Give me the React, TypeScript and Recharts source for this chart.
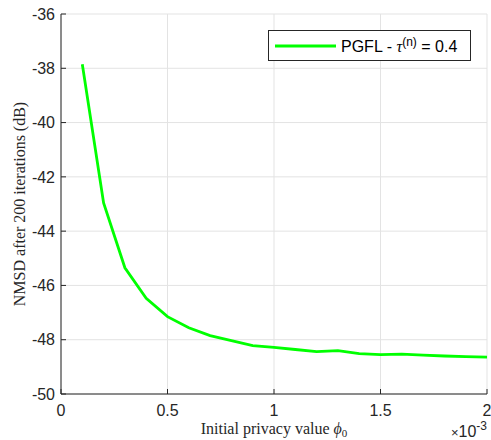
import { LineChart, Line, XAxis, YAxis, CartesianGrid, Legend } from "recharts";

// initial privacy value phi0 (x 1e-3)
const phi0 = [0.1, 0.2, 0.3, 0.4, 0.5, 0.6, 0.7, 0.8, 0.9, 1.0, 1.1, 1.2, 1.3, 1.4, 1.5, 1.6, 1.7, 1.8, 1.9, 2.0];
// NMSD after 200 iterations, dB
const nmsdPgfl = [
  -37.85, -42.96, -45.35, -46.47, -47.15, -47.56, -47.85, -48.03, -48.22, -48.28,
  -48.36, -48.44, -48.4, -48.51, -48.55, -48.53, -48.57, -48.6, -48.62, -48.64,
];
const xTicks = [0, 0.5, 1, 1.5, 2];
const yTicks = [-50, -48, -46, -44, -42, -40, -38, -36];

const data = phi0.map((p, i) => ({ phi: p, nmsd: nmsdPgfl[i] }));

const AXIS = "#262626";
const GREEN = "#00ff00";
const tickFont = { fill: AXIS, fontSize: 16, fontFamily: "'Liberation Sans', Arial, sans-serif" };
const serif = "'Liberation Serif', 'Times New Roman', serif";

function XLabel({ viewBox }: any) {
  const { x, y, width } = viewBox;
  return (
    <g>
      <text x={x + width / 2} y={y + 40} textAnchor="middle" fontFamily={serif} fontSize={16} fill={AXIS}>
        Initial privacy value <tspan fontStyle="italic">ϕ</tspan>
        <tspan fontSize={11} dy={3}>0</tspan>
      </text>
      <text x={x + width} y={y + 43} textAnchor="end" fontFamily={tickFont.fontFamily} fontSize={16} fill={AXIS}>
        <tspan fontSize={13}>×</tspan>10<tspan fontSize={12} dy={-7}>-3</tspan>
      </text>
    </g>
  );
}

function YLabel({ viewBox }: any) {
  const { y, height } = viewBox;
  const cy = y + height / 2;
  return (
    <text x={25} y={cy} transform={`rotate(-90 25 ${cy})`} textAnchor="middle" fontFamily={serif} fontSize={16} fill={AXIS}>
      NMSD after 200 iterations (dB)
    </text>
  );
}

function LegendBox() {
  return (
    <div
      style={{
        width: 203,
        height: 31,
        boxSizing: "border-box",
        border: `1px solid ${AXIS}`,
        background: "#fff",
        display: "flex",
        alignItems: "center",
        fontFamily: tickFont.fontFamily,
        fontSize: 16,
        color: "#000",
        whiteSpace: "nowrap",
      }}
    >
      <svg width={72} height={10} style={{ flex: "none" }}>
        <line x1={6} x2={67} y1={5} y2={5} stroke={GREEN} strokeWidth={3} />
      </svg>
      <span>
        PGFL - <span style={{ fontFamily: serif, fontStyle: "italic" }}>τ</span>
        <sup style={{ fontSize: 12, verticalAlign: "6px" }}>(n)</sup> = 0.4
      </span>
    </div>
  );
}

export default function App() {
  return (
    <div style={{ position: "absolute", left: 0, top: 0, background: "#fff" }}>
      <LineChart width={491} height={440} data={data} margin={{ top: 14, right: 4, bottom: 0, left: 0 }}>
        <CartesianGrid xAxisId="bottom" yAxisId="left" stroke="#e3e3e3" strokeWidth={1} />
        <XAxis
          xAxisId="bottom"
          dataKey="phi"
          type="number"
          domain={[0, 2]}
          ticks={xTicks}
          height={46}
          stroke={AXIS}
          tickSize={-5}
          tickMargin={16}
          tick={tickFont}
          allowDataOverflow
          label={<XLabel />}
        />
        <XAxis
          xAxisId="top"
          orientation="top"
          dataKey="phi"
          type="number"
          domain={[0, 2]}
          ticks={xTicks}
          height={0}
          stroke={AXIS}
          tickSize={-5}
          tick={false}
          allowDataOverflow
        />
        <YAxis
          yAxisId="left"
          type="number"
          domain={[-50, -36]}
          ticks={yTicks}
          width={61}
          stroke={AXIS}
          tickSize={-5}
          tickMargin={11}
          tick={tickFont}
          allowDataOverflow
          label={<YLabel />}
        />
        <YAxis
          yAxisId="right"
          orientation="right"
          type="number"
          domain={[-50, -36]}
          ticks={yTicks}
          width={0}
          stroke={AXIS}
          tickSize={-5}
          tick={false}
          allowDataOverflow
        />
        <Legend
          layout="horizontal"
          verticalAlign="middle"
          align="center"
          content={<LegendBox />}
          wrapperStyle={{ left: 268, top: 30, width: 203, height: 31 }}
        />
        <Line
          xAxisId="bottom"
          yAxisId="left"
          dataKey="nmsd"
          stroke={GREEN}
          strokeWidth={2.8}
          dot={false}
          isAnimationActive={false}
        />
      </LineChart>
    </div>
  );
}
